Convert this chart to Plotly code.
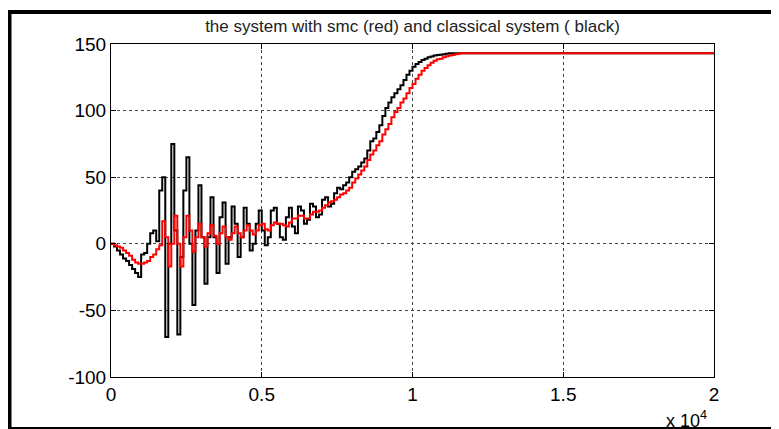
import plotly.graph_objects as go

# time axis (samples) and signals
t = list(range(0, 12100, 100)) + [20000]

classical = [
    0, -2, -5, -8, -11, -13, -16, -19, -22, -25,
    -8, -7, 0, 8, 10, 2, 40, 50, -70, 0,
    75, 10, -68, -10, 40, 65, 0, -46, 10, 44,
    5, -30, 5, 35, 5, -22, 20, 31, -15, 5,
    28, 15, -10, 5, 27, 15, -5, 0, 15, 25,
    10, -1, 5, 25, 27, 15, 5, 3, 20, 27,
    13, 8, 28, 25, 15, 18, 30, 28, 20, 22,
    33, 35, 28, 30, 38, 42, 41, 44, 46, 50,
    54, 56, 58, 61, 64, 70, 77, 79, 84, 89,
    96, 102, 106, 110, 113, 116, 119, 123, 127, 130,
    133, 135, 136.5, 138, 139, 140, 140.7, 141.3, 141.7, 142,
    142.3, 142.6, 143, 143, 143, 143, 143, 143, 143, 143,
    143, 143,
]

smc = [
    0, -1, -2, -3, -5, -7, -9, -12, -14, -15,
    -15, -14, -13, -10, -8, -4, -1, 17, 5, -17,
    0, 21, 0, -17, 5, 21, 10, -6, 5, 15,
    5, -2, 8, 14, 6, 0, 8, 13, 5, 3,
    8, 13, 8, 5, 10, 14, 10, 7, 10, 14,
    15, 11, 10, 14, 16, 15, 15, 14, 13, 16,
    19, 19, 21, 21, 19, 19, 22, 24, 24, 25,
    27, 29, 31, 32, 33, 35, 37, 38, 40, 42,
    46, 49, 52, 55, 58, 63, 67, 70, 74, 77,
    82, 86, 90, 95, 99, 102, 106, 109, 113, 117,
    120, 124, 127, 130, 132, 134, 136, 137.5, 138.5, 139,
    140, 140.8, 141.4, 141.8, 142.3, 142.7, 143, 143, 143, 143,
    143, 143,
]

x_tickvals = [0, 5000, 10000, 15000, 20000]
x_ticktext = ["0", "0.5", "1", "1.5", "2"]
y_tickvals = [-100, -50, 0, 50, 100, 150]
y_ticktext = ["-100", "-50", "0", "50", "100", "150"]

fig = go.Figure()
fig.add_trace(go.Scatter(x=t, y=classical, mode="lines", line_shape="hv",
                         line=dict(color="black", width=2), showlegend=False))
fig.add_trace(go.Scatter(x=t, y=smc, mode="lines", line_shape="hv",
                         line=dict(color="#ff0000", width=2), showlegend=False))

# the page body has an 8px margin; work in figure coordinates
OFF = 8
W, H = 779 - OFF, 429 - OFF
L, T = 111 - OFF, 44 - OFF
R = W - (714 - OFF)
B = H - (377 - OFF)
pw, ph = W - L - R, H - T - B


def px(x):
    return (x - OFF - L) / pw


def py(y):
    return (H - B - (y - OFF)) / ph


FONT = "Arial, Liberation Sans, sans-serif"

axis_common = dict(
    showline=True, linecolor="black", linewidth=1, mirror="ticks",
    ticks="inside", ticklen=5, tickcolor="black",
    showgrid=True, gridcolor="#444444", gridwidth=1, griddash="dot",
    zeroline=False,
    tickfont=dict(family=FONT, size=19, color="black"),
)

fig.update_xaxes(range=[0, 20000], tickmode="array", tickvals=x_tickvals,
                 ticktext=x_ticktext, **axis_common)
fig.update_yaxes(range=[-100, 150], tickmode="array", tickvals=y_tickvals,
                 ticktext=y_ticktext, **axis_common)

shapes = [
    dict(type="rect", xref="paper", yref="paper", x0=px(8), x1=px(11.5),
         y0=py(429), y1=py(10), fillcolor="black", line=dict(width=0)),
    dict(type="rect", xref="paper", yref="paper", x0=px(8), x1=px(779),
         y0=py(14), y1=py(10), fillcolor="black", line=dict(width=0)),
    dict(type="rect", xref="paper", yref="paper", x0=px(8), x1=px(779),
         y0=py(429), y1=py(427), fillcolor="black", line=dict(width=0)),
]

fig.update_layout(
    width=W, height=H,
    margin=dict(l=L, r=R, t=T, b=B, pad=0),
    paper_bgcolor="white", plot_bgcolor="white",
    title=dict(text="the system with smc (red) and classical system ( black)",
               x=0.5, xref="paper", xanchor="center",
               y=1 - (26 - OFF) / H, yref="container", yanchor="middle",
               font=dict(family=FONT, size=17, color="#222222")),
    shapes=shapes,
    annotations=[dict(text="x 10<sup>4</sup>", xref="paper", yref="paper",
                      x=px(664), y=py(419), xanchor="left", yanchor="middle",
                      showarrow=False,
                      font=dict(family=FONT, size=18, color="black"))],
)

fig.write_html("out.html")
